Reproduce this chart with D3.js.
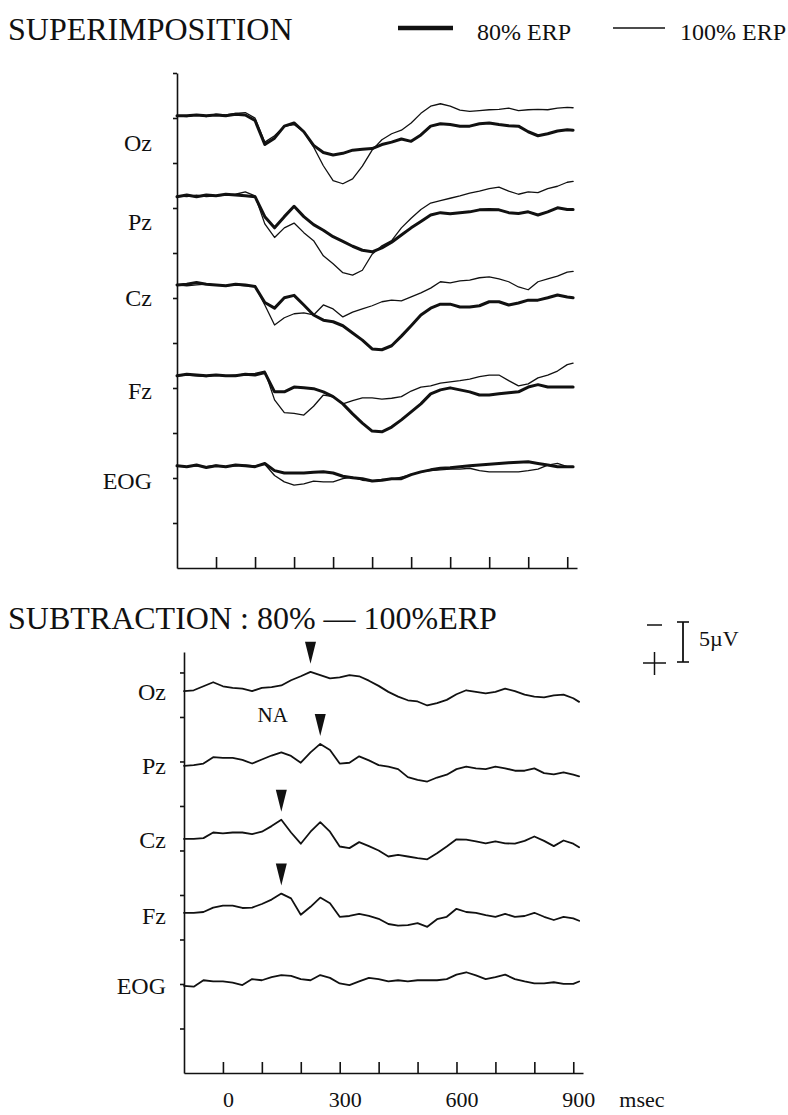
<!DOCTYPE html>
<head>
<meta charset="utf-8">
<script src="https://d3js.org/d3.v7.min.js"></script>
<style>
  body { margin: 0; background: #ffffff; }
  text {
    font-family: "Liberation Serif", "Times New Roman", serif;
    fill: #111111;
  }
  text.title { font-size: 32px; }
  text.legend { font-size: 24px; }
  text.chan { font-size: 24px; }
  text.note { font-size: 21px; }
  text.unit { font-size: 22px; }
  .axis path, .axis line {
    stroke: #111111;
    stroke-width: 1.6;
    fill: none;
  }
  .tickLabels path { display: none; }
  .tickLabels text { font-size: 22px; }
  .trace {
    fill: none;
    stroke: #111111;
    stroke-linejoin: round;
    stroke-linecap: round;
  }
</style>
</head>
<body>
<script>
// sample times (msec), shared by every trace
const times = [-100,-75,-50,-25,0,25,50,75,100,125,150,175,200,225,250,275,300,325,350,375,400,
  425,450,475,500,525,550,575,600,625,650,675,700,725,750,775,800,825,850,875,900,915];

const channels = ["Oz", "Pz", "Cz", "Fz", "EOG"];

// superimposition, uV (positive plotted downward)
const oz80 = [0,0,-0.1,0,-0.1,0,-0.2,-0.1,0.6,3.6,2.8,1.3,0.9,2.0,3.7,4.6,4.9,4.7,4.3,4.2,4.1,
  3.6,3.3,2.9,3.2,2.4,1.3,1.0,1.1,1.3,1.3,1.0,0.9,1.1,1.25,1.3,2.0,2.5,2.25,1.9,1.75,1.8];
const oz100 = [0,0.1,-0.1,0.1,-0.2,-0.1,-0.3,-0.4,0.3,3.3,2.5,1.3,1.1,2.0,3.9,6.25,8.1,8.5,7.9,6.3,4.3,
  3.0,2.25,1.8,0.9,-0.3,-1.2,-1.5,-1.2,-0.7,-0.55,-0.65,-0.75,-0.8,-0.95,-0.65,-0.75,-0.8,-0.75,-0.95,-1.05,-1.0];
const pz80 = [0.1,-0.1,0.1,-0.1,0,-0.2,-0.1,0,0.1,2.6,4.0,2.6,1.3,2.6,3.6,4.3,5.1,5.7,6.3,6.8,7.0,
  6.5,5.8,4.9,4.0,3.2,2.4,2.1,2.25,2.1,2.0,1.75,1.7,1.75,2.1,2.2,2.0,2.4,2.0,1.5,1.7,1.7];
const pz100 = [0,0.1,-0.1,0.1,0,-0.1,-0.2,-0.5,0,3.5,5.2,4.0,3.4,4.6,5.6,7.5,8.5,9.6,9.9,9.3,7.3,
  6.25,5.6,4.0,2.8,1.7,0.9,0.6,0.3,0,-0.35,-0.6,-0.9,-1.1,-0.6,-0.2,-0.5,-0.4,-0.9,-1.2,-1.7,-1.8];
const cz80 = [0,-0.1,-0.3,-0.1,0,0.1,-0.1,0,0.2,2.2,2.9,1.6,1.3,2.5,3.75,4.4,4.6,5.1,6.0,6.9,8.0,
  8.1,7.6,6.4,5.1,3.75,2.9,2.4,2.4,2.75,2.75,2.6,2.1,2.1,2.5,2.25,1.9,1.9,1.6,1.25,1.5,1.6];
const cz100 = [0,0.1,0,-0.1,0,0.1,0,0.1,0.1,2.5,5.0,4.1,3.6,3.5,3.75,2.5,3.0,4.0,3.4,3.0,2.6,
  2.1,1.9,2.0,1.5,1.0,0.4,-0.4,-0.25,-0.5,-0.6,-0.9,-1.0,-0.75,-0.4,0.25,0.6,-0.4,-0.75,-1.1,-1.6,-1.7];
const fz80 = [0,-0.2,-0.1,0,-0.1,0,0,-0.2,-0.1,-0.4,2.0,2.0,1.4,1.5,1.6,2.0,2.6,3.5,4.75,5.9,6.9,
  7.0,6.4,5.5,4.5,3.5,2.25,1.75,1.5,1.75,2.0,2.4,2.4,2.25,2.1,2.0,1.4,1.1,1.4,1.4,1.4,1.4];
const fz100 = [0,-0.1,0,0.1,-0.1,0,-0.1,-0.2,-0.3,-0.6,3.0,4.6,4.7,4.9,3.8,2.4,2.6,3.5,3.1,2.75,2.75,
  2.9,2.8,2.6,1.9,1.4,1.25,0.9,0.75,0.6,0.4,0.1,-0.1,-0.1,0.6,1.25,1.0,0.25,-0.1,-0.6,-1.4,-1.6];
const eog80 = [0,0.1,-0.1,0.2,0,0.1,-0.1,0,0.1,-0.3,0.6,0.9,0.9,0.9,0.8,0.75,0.9,1.3,1.5,1.6,1.9,
  1.8,1.6,1.6,1.1,0.75,0.5,0.3,0.25,0.1,0.0,-0.1,-0.2,-0.3,-0.4,-0.45,-0.5,-0.3,-0.1,0.1,0.1,0.1];
const eog100 = [0,0.1,0,0.1,-0.1,0.1,0,-0.1,0,-0.2,1.2,2.0,2.4,2.25,1.9,2.0,2.0,1.6,1.4,1.8,1.9,
  1.7,1.7,1.4,1.1,0.75,0.6,0.5,0.4,0.4,0.3,0.6,0.75,0.75,0.75,0.75,0.6,0.4,-0.1,-0.3,0.1,0.2];

// subtraction 80% - 100%, uV
const ozDiff = [0.1,0,-0.5,-1.0,-0.5,-0.3,-0.2,0.1,-0.3,-0.4,-0.6,-1.25,-1.75,-2.3,-1.9,-1.5,-1.6,-1.9,-1.75,-1.2,-0.55,
  0.2,0.8,1.25,1.4,1.9,1.6,1.2,0.5,0,0.2,0.4,0.2,-0.2,0.1,0.55,0.8,0.9,0.65,0.55,1.0,1.45];
const pzDiff = [0,-0.1,-0.3,-1.1,-1.0,-1.0,-0.75,-0.3,-0.8,-1.3,-1.7,-1.25,-0.4,-1.7,-2.75,-2.0,-0.3,-0.4,-1.2,-0.7,-0.1,
  0.1,0.4,1.4,1.75,1.95,1.45,1.1,0.4,0.1,0.3,0.4,0.1,0.3,0.6,0.6,0.3,0.9,1.05,0.8,1.1,1.3];
const czDiff = [0,0,-0.1,-0.8,-0.7,-0.8,-0.8,-0.6,-0.9,-1.6,-2.4,-0.8,0.6,-0.9,-2.1,-0.9,0.95,1.15,0.4,0.9,1.45,
  2.2,2.0,2.2,2.4,2.55,1.8,0.95,0.05,0.1,0.3,0.55,0.3,0.55,0.6,0.25,-0.3,0.25,0.9,0.2,0.6,1.05];
const fzDiff = [0,0,-0.1,-0.65,-0.9,-0.9,-0.6,-0.65,-1.1,-1.65,-2.4,-1.8,0.25,-0.75,-1.9,-1.2,0.5,0.4,0.15,0.4,0.75,
  1.4,1.6,1.55,1.3,1.75,0.8,0.5,-0.5,-0.1,0,0.3,0.5,0.15,0.5,0.4,0,0.5,0.9,0.5,0.7,1.0];
const eogDiff = [0.4,0.5,-0.3,-0.15,-0.15,0,0.3,-0.45,-0.3,-0.7,-0.95,-0.85,-0.45,-0.3,-0.95,-0.6,0.1,0.3,-0.15,-0.6,-0.45,
  -0.15,-0.3,-0.15,-0.3,-0.3,-0.3,-0.45,-1.0,-1.3,-0.9,-0.45,-0.7,-1.0,-0.45,-0.15,0.1,0.1,-0.05,0.15,0.15,-0.15];

// NA arrows (msec of the marked peak)
const arrowChannels = ["Oz", "Pz", "Cz", "Fz"];
const arrowTimes = [225, 250, 150, 150];

const xTickValues = [0, 100, 200, 300, 400, 500, 600, 700, 800, 900];
const xTickLabels = [0, 300, 600, 900];

// ---- layout ----
const width = 788, height = 1115;

const svg = d3.select("body").append("svg")
  .attr("width", width)
  .attr("height", height);

// uV -> px (5 uV = 40 px, negative up)
const uv = d3.scaleLinear().domain([0, 5]).range([0, 40]);

const xTop = d3.scaleLinear().domain([-100, 925]).range([177, 577]);
const yTop = d3.scaleLinear().domain([0, 11]).range([568, 73]);
const xBot = d3.scaleLinear().domain([-100, 925]).range([184, 583]);
const yBot = d3.scaleLinear().domain([0, 9.46]).range([1073, 652]);

// baselines in axis divisions, and label nudges in px
const topBase = [10.05, 8.27, 6.29, 4.27, 2.27];
const topLabelDy = [27, 26, 13, 15, 15];
const botBase = [8.6, 6.9, 5.26, 3.6, 2.03];
const botLabelDy = [1, 0, 1, 3, 3];

const top80 = [oz80, pz80, cz80, fz80, eog80];
const top100 = [oz100, pz100, cz100, fz100, eog100];
const diffs = [ozDiff, pzDiff, czDiff, fzDiff, eogDiff];

// ---- titles and legend ----
svg.append("text").attr("class", "title")
  .attr("x", 8).attr("y", 40)
  .text("SUPERIMPOSITION");

svg.append("text").attr("class", "title")
  .attr("x", 8).attr("y", 629)
  .text("SUBTRACTION : 80% \u2014 100%ERP");

const legend = svg.append("g");
legend.append("line")
  .attr("x1", 398).attr("x2", 453).attr("y1", 28).attr("y2", 28)
  .style("stroke", "#111").style("stroke-width", 4.5);
legend.append("text").attr("class", "legend")
  .attr("x", 477).attr("y", 40).text("80% ERP");
legend.append("line")
  .attr("x1", 613).attr("x2", 665).attr("y1", 28).attr("y2", 28)
  .style("stroke", "#111").style("stroke-width", 1.5);
legend.append("text").attr("class", "legend")
  .attr("x", 680).attr("y", 40).text("100% ERP");

// ---- superimposition panel ----
svg.append("g")
  .attr("class", "axis")
  .attr("transform", `translate(${xTop(-100)},0)`)
  .call(d3.axisLeft(yTop).tickValues(d3.range(1, 12)).tickSize(4).tickSizeOuter(0).tickFormat(""));

svg.append("g")
  .attr("class", "axis")
  .attr("transform", `translate(0,${yTop(0)})`)
  .call(d3.axisBottom(xTop).tickValues(xTickValues).tickSizeInner(-11).tickSizeOuter(0).tickFormat(""));

channels.forEach((ch, i) => {
  const base = yTop(topBase[i]);
  const line = d3.line()
    .x((d, j) => xTop(times[j]))
    .y(d => base + uv(d));

  svg.append("path").attr("class", "trace")
    .attr("d", line(top100[i]))
    .style("stroke-width", 1.3);
  svg.append("path").attr("class", "trace")
    .attr("d", line(top80[i]))
    .style("stroke-width", 3);

  svg.append("text").attr("class", "chan")
    .attr("x", 152)
    .attr("y", base + topLabelDy[i])
    .attr("dy", "0.35em")
    .style("text-anchor", "end")
    .text(ch);
});

// ---- subtraction panel ----
svg.append("g")
  .attr("class", "axis")
  .attr("transform", `translate(${xBot(-100)},0)`)
  .call(d3.axisLeft(yBot).tickValues(d3.range(1, 10)).tickSize(4).tickSizeOuter(0).tickFormat(""));

svg.append("g")
  .attr("class", "axis")
  .attr("transform", `translate(0,${yBot(0)})`)
  .call(d3.axisBottom(xBot).tickValues(xTickValues).tickSizeInner(-11).tickSizeOuter(0).tickFormat(""));

svg.append("g")
  .attr("class", "tickLabels")
  .attr("transform", `translate(5,${yBot(0)})`)
  .call(d3.axisBottom(xBot).tickValues(xTickLabels).tickSize(0).tickPadding(18))
  .selectAll("text")
  .style("fill", "#111");

svg.append("text").attr("class", "unit")
  .attr("x", xBot(900) + 46)
  .attr("y", yBot(0) + 34)
  .text("msec");

channels.forEach((ch, i) => {
  const base = yBot(botBase[i]);
  const line = d3.line()
    .x((d, j) => xBot(times[j]))
    .y(d => base + uv(d));

  svg.append("path").attr("class", "trace")
    .attr("d", line(diffs[i]))
    .style("stroke-width", 1.8);

  svg.append("text").attr("class", "chan")
    .attr("x", 166)
    .attr("y", base + botLabelDy[i])
    .attr("dy", "0.35em")
    .style("text-anchor", "end")
    .text(ch);
});

// NA arrowheads
arrowChannels.forEach((ch, k) => {
  const i = channels.indexOf(ch);
  const j = times.indexOf(arrowTimes[k]);
  const tipX = xBot(arrowTimes[k]);
  const tipY = yBot(botBase[i]) + uv(diffs[i][j]) - 8;
  svg.append("path")
    .attr("d", `M${tipX},${tipY} L${tipX - 5.5},${tipY - 22} L${tipX + 5.5},${tipY - 22} Z`)
    .style("fill", "#111");
});

svg.append("text").attr("class", "note")
  .attr("x", xBot(128))
  .attr("y", yBot(botBase[0]) + 32)
  .style("text-anchor", "middle")
  .text("NA");

// ---- 5 uV calibration ----
const cal = svg.append("g").attr("transform", "translate(683,622)");
cal.append("line")
  .attr("x1", 0).attr("x2", 0).attr("y1", 0).attr("y2", uv(5))
  .style("stroke", "#111").style("stroke-width", 1.8);
cal.selectAll("line.cap")
  .data([0, uv(5)])
  .enter().append("line")
  .attr("class", "cap")
  .attr("x1", -6).attr("x2", 6)
  .attr("y1", d => d).attr("y2", d => d)
  .style("stroke", "#111").style("stroke-width", 1.6);
cal.append("line")
  .attr("x1", -36).attr("x2", -21).attr("y1", 3).attr("y2", 3)
  .style("stroke", "#111").style("stroke-width", 1.5);
cal.append("line")
  .attr("x1", -40).attr("x2", -17).attr("y1", uv(5) + 1).attr("y2", uv(5) + 1)
  .style("stroke", "#111").style("stroke-width", 1.5);
cal.append("line")
  .attr("x1", -28.5).attr("x2", -28.5).attr("y1", uv(5) - 10).attr("y2", uv(5) + 13)
  .style("stroke", "#111").style("stroke-width", 1.5);
cal.append("text").attr("class", "unit")
  .attr("x", 16).attr("y", 24)
  .text("5\u00b5V");
</script>
</body>
